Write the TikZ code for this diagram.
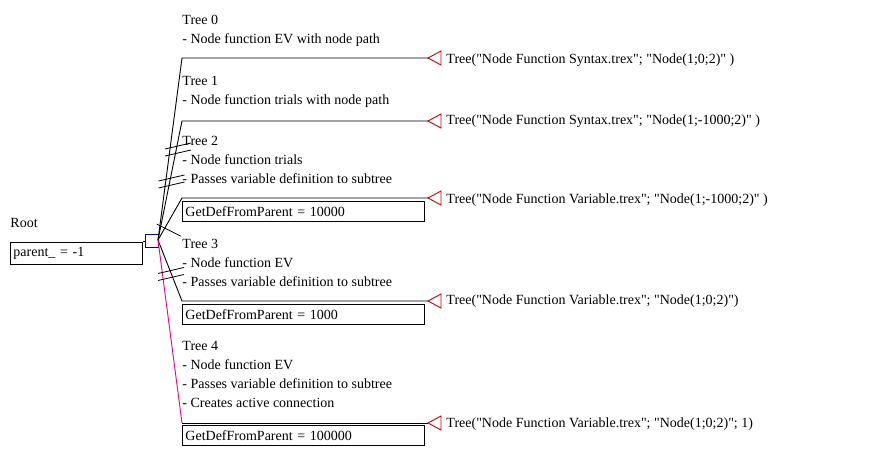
\documentclass[tikz,border=0pt]{standalone}
\usepackage{fontspec}
\setmainfont{Liberation Serif}[Ligatures=NoCommon,Mapping=]
\usetikzlibrary{calc}
\newcommand\qt{\char34\relax}
\begin{document}
\begin{tikzpicture}[x=1pt,y=-1pt,font=\fontsize{14}{19}\selectfont,line width=0.9pt,
	txt/.style={anchor=north west,inner sep=0pt,align=left},
	defbox/.style={draw,anchor=north west,minimum width=242pt,minimum height=20pt,inner sep=3pt,text width=236pt},
	tri/.style={draw=red!80!black,fill=white},
	hash/.style={line width=0.8pt}]
	\useasboundingbox (0,0) rectangle (877,471);

	\node[txt] at (10,218) (rootl) {Root};
	\node[draw,anchor=north west,minimum width=132pt,minimum height=22pt,inner sep=3pt,text width=126pt] at (10,242) (root) {parent\_ = -1};
	\node[draw=blue!70!black,minimum size=13pt,inner sep=0pt,anchor=north west] at (145,234) (sq) {};
	\draw (root.east |- sq.west) -- (sq.west);

	\node[txt] at (182,15) (t0) {Tree 0\\- Node function EV with node path};
	\node[txt] at (182,76) (t1) {Tree 1\\- Node function trials with node path};
	\node[txt] at (182,136) (t2) {Tree 2\\- Node function trials\\- Passes variable definition to subtree};
	\node[txt] at (182,239) (t3) {Tree 3\\- Node function EV\\- Passes variable definition to subtree};
	\node[txt] at (182,341) (t4) {Tree 4\\- Node function EV\\- Passes variable definition to subtree\\- Creates active connection};

	\node[defbox] at (182,201) (d2) {GetDefFromParent = 10000};
	\node[defbox] at (182,304) (d3) {GetDefFromParent = 1000};
	\node[defbox] at (182,425) (d4) {GetDefFromParent = 100000};

	\coordinate (o) at (158,240);
	\foreach \y/\n in {58/a,121/b,198/c,301/d,423/e}{
		\coordinate (k\n) at (182,\y);
		\coordinate (e\n) at (428,\y);
		\draw[tri] (e\n) -- ++(13,-7) -- ++(0,14) -- cycle;
	}
	\draw (o) -- (ka) -- (ea);
	\draw (o) -- (kb) -- (eb);
	\draw (o) -- (kc) -- (ec);
	\draw (o) -- (kd) -- (ed);
	\draw[magenta] (o) -- (ke);
	\draw (ke) -- (ee);

	% line jump marks
	\foreach \y/\p in {146/kb,178/kb}{
		\draw[hash] ($(o)!{(240-\y)/(240-121)}!(\p)+(-12,3)$) -- ++(26,-6);
		\draw[hash] ($(o)!{(240-\y)/(240-121)}!(\p)+(-12,10)$) -- ++(26,-6);
	}
	\draw[hash] ($(o)!0.45!(kc)+(-12,3)$) -- ++(24,12);
	\draw[hash] ($(o)!0.5!(kd)+(-12,3)$) -- ++(26,-6);
	\draw[hash] ($(o)!0.5!(kd)+(-12,10)$) -- ++(26,-6);

	\node[txt,anchor=west] at (446,60) (l0) {Tree(\qt Node Function Syntax.trex\qt; \qt Node(1;0;2)\qt{} )};
	\node[txt,anchor=west] at (446,121) (l1) {Tree(\qt Node Function Syntax.trex\qt; \qt Node(1;-1000;2)\qt{} )};
	\node[txt,anchor=west] at (446,200) (l2) {Tree(\qt Node Function Variable.trex\qt; \qt Node(1;-1000;2)\qt{} )};
	\node[txt,anchor=west] at (446,301) (l3) {Tree(\qt Node Function Variable.trex\qt; \qt Node(1;0;2)\qt)};
	\node[txt,anchor=west] at (446,424) (l4) {Tree(\qt Node Function Variable.trex\qt; \qt Node(1;0;2)\qt; 1)};
\end{tikzpicture}
\end{document}
